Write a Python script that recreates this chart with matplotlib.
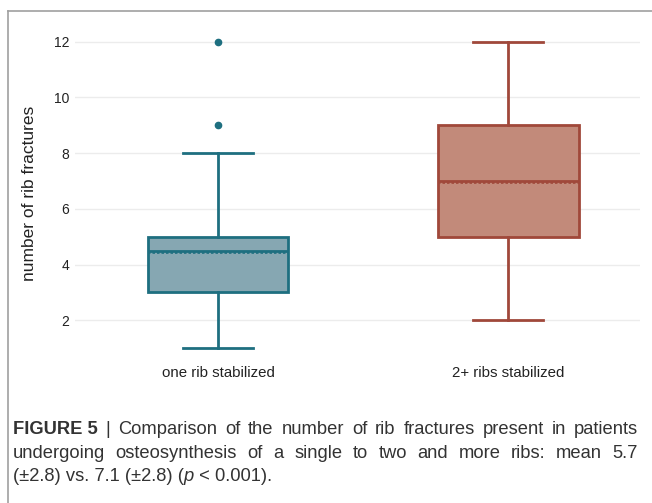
import matplotlib
matplotlib.use('Agg')
import matplotlib.pyplot as plt
from matplotlib import font_manager
from matplotlib.lines import Line2D

# data
groups = ['one rib stabilized', '2+ ribs stabilized']
q1 = [3, 5]
q3 = [5, 9]
medians = [4.5, 7]
means = [4.42, 6.93]
whis_lo = [1, 2]
whis_hi = [8, 12]
outliers = [[9, 12], []]
yticks = [2, 4, 6, 8, 10, 12]

fill_colors = ['#86a7b2', '#c28a7a']
edge_colors = ['#1e6f80', '#a0483a']

caption_lines = [
    [('FIGURE 5', 'bold', 'normal'), ('|', 'normal', 'normal'), ('Comparison', 'normal', 'normal'),
     ('of', 'normal', 'normal'), ('the', 'normal', 'normal'), ('number', 'normal', 'normal'),
     ('of', 'normal', 'normal'), ('rib', 'normal', 'normal'), ('fractures', 'normal', 'normal'),
     ('present', 'normal', 'normal'), ('in', 'normal', 'normal'), ('patients', 'normal', 'normal')],
    [('undergoing', 'normal', 'normal'), ('osteosynthesis', 'normal', 'normal'), ('of', 'normal', 'normal'),
     ('a', 'normal', 'normal'), ('single', 'normal', 'normal'), ('to', 'normal', 'normal'),
     ('two', 'normal', 'normal'), ('and', 'normal', 'normal'), ('more', 'normal', 'normal'),
     ('ribs:', 'normal', 'normal'), ('mean', 'normal', 'normal'), ('5.7', 'normal', 'normal')],
]
caption_last = [('(±2.8) vs. 7.1 (±2.8) (', 'normal', 'normal'), ('p', 'normal', 'italic'),
                (' < 0.001).', 'normal', 'normal')]

names = {f.name for f in font_manager.fontManager.ttflist}
cap_font = 'Liberation Sans Narrow' if 'Liberation Sans Narrow' in names else 'Liberation Sans'
plt.rcParams['font.family'] = ['Liberation Sans', 'DejaVu Sans']

W, H = 652, 503
fig = plt.figure(figsize=(W / 100, H / 100), dpi=100)

# axes placed in pixel terms
ax_l, ax_r, ax_t, ax_b = 75, 640, 25, 362
ax = fig.add_axes([ax_l / W, 1 - ax_b / H, (ax_r - ax_l) / W, (ax_b - ax_t) / H])

stats = []
for i in range(len(groups)):
    stats.append({'med': medians[i], 'q1': q1[i], 'q3': q3[i], 'whislo': whis_lo[i],
                  'whishi': whis_hi[i], 'fliers': outliers[i], 'mean': means[i]})

for i, st in enumerate(stats):
    c = edge_colors[i]
    ax.bxp([st], positions=[i], widths=0.486, patch_artist=True, showmeans=False,
           capwidths=0.24,
           boxprops=dict(facecolor=fill_colors[i], edgecolor=c, linewidth=2),
           medianprops=dict(color=c, linewidth=2),
           whiskerprops=dict(color=c, linewidth=2),
           capprops=dict(color=c, linewidth=2),
           flierprops=dict(marker='o', markerfacecolor=c, markeredgecolor=c, markersize=4.5))
    # mean drawn as dotted line
    ax.add_line(Line2D([i - 0.243, i + 0.243], [means[i], means[i]], color=c,
                       linewidth=1.2, linestyle=(0, (1.5, 1.2)), zorder=4))

ax.set_ylim(0.5, 12.6)
ax.set_xlim(-0.493, 1.455)
ax.set_yticks(yticks)
ax.set_xticks(range(len(groups)))
ax.set_xticklabels(groups)
ax.tick_params(axis='both', length=0, labelsize=10, colors='#222222', pad=4)
ax.tick_params(axis='x', labelsize=10.8, pad=3)
ax.yaxis.grid(True, color='#ececec', linewidth=1)
ax.set_axisbelow(True)
for s in ax.spines.values():
    s.set_visible(False)
ax.set_ylabel('number of rib fractures', fontsize=12.5, color='#222222', labelpad=12)

# screenshot frame
fig.add_artist(Line2D([8 / W, 1], [1 - 11 / H, 1 - 11 / H], color='#a0a0a0', linewidth=1.2))
fig.add_artist(Line2D([8 / W, 8 / W], [0, 1 - 11 / H], color='#a0a0a0', linewidth=1.2))

# caption, justified like the journal layout
fig.canvas.draw()
renderer = fig.canvas.get_renderer()
left_px, right_px = 13, 638
baselines = [434, 458, 481]
fs = 13.2
for line, base in zip(caption_lines, baselines):
    texts = []
    for word, weight, style in line:
        t = fig.text(0, 1 - base / H, word, fontsize=fs, fontweight=weight, fontstyle=style,
                     family=cap_font, color='#333333', va='baseline')
        texts.append(t)
    widths = [t.get_window_extent(renderer).width for t in texts]
    gap = (right_px - left_px - sum(widths)) / (len(texts) - 1)
    x = left_px
    for t, w in zip(texts, widths):
        t.set_x(x / W)
        x += w + gap

x = left_px
for word, weight, style in caption_last:
    t = fig.text(x / W, 1 - baselines[2] / H, word, fontsize=fs, fontweight=weight,
                 fontstyle=style, family=cap_font, color='#333333', va='baseline')
    x += t.get_window_extent(renderer).width

fig.savefig('out.png', dpi=100)
